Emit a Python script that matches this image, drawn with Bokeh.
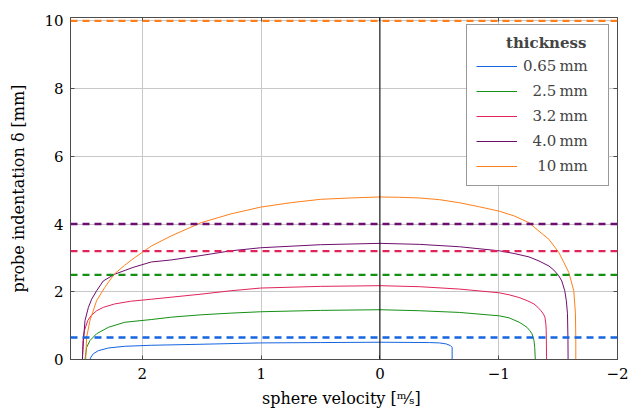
from bokeh.plotting import figure
from bokeh.models import Range1d, LinearAxis, Span, Legend, LegendItem, FixedTicker
from bokeh.embed import file_html
from bokeh.resources import INLINE

# Plate thicknesses and their colours
thickness_mm = [0.65, 2.5, 3.2, 4.0, 10.0]
thickness_labels = ["0.65\u2009mm", "\u20072.5\u2009mm", "\u20073.2\u2009mm",
                    "\u20074.0\u2009mm", "\u2007\u200810\u2009mm"]
colors = ["#1565e0", "#149014", "#e0245a", "#6e0e6e", "#ff7f1a"]

# Sphere velocity [m/s] vs. probe indentation [mm] for each thickness
vel_065 = [2.441, 2.433, 2.413, 2.371, 2.287, 2.148, 1.925, 1.506, 1.004, 0.502,
           0.0, -0.418, -0.500, -0.558, -0.594, -0.608, -0.608]
ind_065 = [0.0, 0.07, 0.17, 0.26, 0.34, 0.39, 0.42, 0.45, 0.49, 0.50,
           0.51, 0.50, 0.49, 0.46, 0.41, 0.36, 0.0]

vel_25 = [2.483, 2.469, 2.441, 2.385, 2.287, 2.148, 1.925, 1.757, 1.506, 1.255,
          1.004, 0.502, 0.0, -0.335, -0.669, -1.004, -1.088, -1.172, -1.205,
          -1.238, -1.262, -1.280, -1.297, -1.303, -1.308]
ind_25 = [0.0, 0.36, 0.56, 0.76, 0.95, 1.10, 1.18, 1.25, 1.32, 1.37,
          1.41, 1.45, 1.47, 1.44, 1.39, 1.29, 1.23, 1.10, 1.03,
          0.95, 0.85, 0.76, 0.56, 0.36, 0.0]

vel_32 = [2.505, 2.500, 2.488, 2.460, 2.433, 2.385, 2.329, 2.234, 2.100, 1.925,
          1.757, 1.506, 1.255, 1.004, 0.502, 0.0, -0.335, -0.669, -1.004, -1.088,
          -1.172, -1.238, -1.297, -1.330, -1.356, -1.377, -1.389, -1.397, -1.400,
          -1.403]
ind_32 = [0.0, 0.56, 0.85, 1.15, 1.29, 1.44, 1.54, 1.64, 1.72, 1.78,
          1.84, 1.93, 2.03, 2.11, 2.16, 2.18, 2.15, 2.08, 1.97, 1.91,
          1.83, 1.74, 1.64, 1.54, 1.44, 1.34, 1.25, 1.05, 0.85,
          0.0]

vel_40 = [2.505, 2.500, 2.496, 2.483, 2.454, 2.427, 2.385, 2.329, 2.232, 2.078,
          1.925, 1.757, 1.506, 1.255, 1.004, 0.502, 0.0, -0.335, -0.669, -1.004,
          -1.130, -1.255, -1.339, -1.423, -1.464, -1.506, -1.531, -1.556, -1.569,
          -1.579, -1.583, -1.584]
ind_40 = [0.0, 0.30, 0.56, 1.15, 1.54, 1.78, 2.03, 2.32, 2.52, 2.72,
          2.88, 2.94, 3.07, 3.21, 3.30, 3.39, 3.43, 3.40, 3.33, 3.21,
          3.13, 3.03, 2.91, 2.76, 2.64, 2.47, 2.32, 2.03, 1.74,
          1.35, 0.60, 0.0]

vel_10 = [2.477, 2.473, 2.469, 2.441, 2.385, 2.316, 2.237, 2.150, 2.064, 1.925,
          1.757, 1.506, 1.255, 1.004, 0.753, 0.502, 0.251, 0.0, -0.167, -0.335,
          -0.502, -0.669, -0.837, -1.004, -1.130, -1.255, -1.339, -1.423, -1.506,
          -1.548, -1.590, -1.632, -1.646, -1.649, -1.649]
ind_10 = [0.0, 0.35, 0.66, 1.15, 1.74, 2.13, 2.52, 2.78, 3.01, 3.35,
          3.65, 4.04, 4.30, 4.50, 4.63, 4.73, 4.77, 4.80, 4.79, 4.77,
          4.72, 4.63, 4.51, 4.38, 4.24, 4.04, 3.79, 3.55, 3.16,
          2.87, 2.57, 2.03, 1.35, 0.60, 0.0]

curves = [(vel_065, ind_065), (vel_25, ind_25), (vel_32, ind_32),
          (vel_40, ind_40), (vel_10, ind_10)]

x_ticks = [2, 1, 0, -1, -2]
y_ticks = [0, 2, 4, 6, 8, 10]

FONT = "DejaVu Serif"
FS = "15px"
FS_LABEL = "16px"
FRAME = "#4d4d4d"

p = figure(width=629, height=414, output_backend="svg", toolbar_location=None,
           x_range=Range1d(2.605, -2.0), y_range=Range1d(0, 10.1),
           min_border_left=70, min_border_right=12, min_border_top=17,
           min_border_bottom=55, background_fill_color="white",
           border_fill_color="white")
p.outline_line_color = FRAME
p.outline_line_width = 1

for ax, ticks in ((p.xaxis[0], x_ticks), (p.yaxis[0], y_ticks)):
    ax.ticker = FixedTicker(ticks=ticks)
    ax.major_tick_in = 4
    ax.major_tick_out = 0
    ax.minor_tick_line_color = None
    ax.axis_line_color = FRAME
    ax.major_tick_line_color = FRAME
    ax.major_label_text_font = FONT
    ax.major_label_text_font_size = FS
    ax.major_label_text_color = "black"
    ax.axis_label_text_font = FONT
    ax.axis_label_text_font_size = FS_LABEL
    ax.axis_label_text_font_style = "normal"
    ax.axis_label_text_color = "black"

p.xaxis[0].major_label_overrides = {-1: "\u22121", -2: "\u22122"}
p.xaxis[0].major_label_standoff = 8
p.xaxis[0].axis_label = "sphere velocity  [\u1d50\u2044\u209b]"
p.xaxis[0].axis_label_standoff = 7
p.yaxis[0].major_label_standoff = 7
p.yaxis[0].axis_label = "probe indentation \u03b4 [mm]"
p.yaxis[0].axis_label_standoff = 13

# mirrored inward ticks on the top and right edges (no labels)
top_ax = LinearAxis(ticker=FixedTicker(ticks=x_ticks))
right_ax = LinearAxis(ticker=FixedTicker(ticks=y_ticks))
for ax in (top_ax, right_ax):
    ax.major_tick_in = 4
    ax.major_tick_out = 0
    ax.minor_tick_line_color = None
    ax.axis_line_color = FRAME
    ax.major_tick_line_color = FRAME
    ax.major_label_text_font_size = "0px"
    ax.major_label_text_color = None
    ax.major_label_standoff = 0
p.add_layout(top_ax, "above")
p.add_layout(right_ax, "right")

p.xgrid.ticker = FixedTicker(ticks=x_ticks)
p.ygrid.ticker = FixedTicker(ticks=y_ticks)
p.xgrid.grid_line_color = "#c8c8c8"
p.ygrid.grid_line_color = "#c8c8c8"

p.add_layout(Span(location=0, dimension="height", line_color="black", line_width=1))

# dashed reference lines at each plate thickness
for t, c in zip(thickness_mm, colors):
    p.add_layout(Span(location=t, dimension="width", line_color=c,
                      line_width=2.4, line_dash="7 5"))

items = []
for (vx, vy), c, lab in zip(curves, colors, thickness_labels):
    r = p.line(vx, vy, line_color=c, line_width=1)
    items.append(LegendItem(label=lab, renderers=[r]))

legend = Legend(items=items, location=(396, 173))
legend.title = "\u2003\u2003thickness"
legend.title_text_font = FONT
legend.title_text_font_size = FS
legend.title_text_font_style = "bold"
legend.title_standoff = 4
legend.label_text_font = FONT
legend.label_text_font_size = FS
legend.glyph_width = 41
legend.glyph_height = 20
legend.label_height = 20
legend.label_width = 76
legend.label_standoff = 6
legend.spacing = 5
legend.padding = 9
legend.margin = 0
legend.border_line_color = "#333333"
legend.border_line_width = 1
legend.background_fill_alpha = 1
p.add_layout(legend)

open("out.html", "w").write(file_html(p, INLINE))
